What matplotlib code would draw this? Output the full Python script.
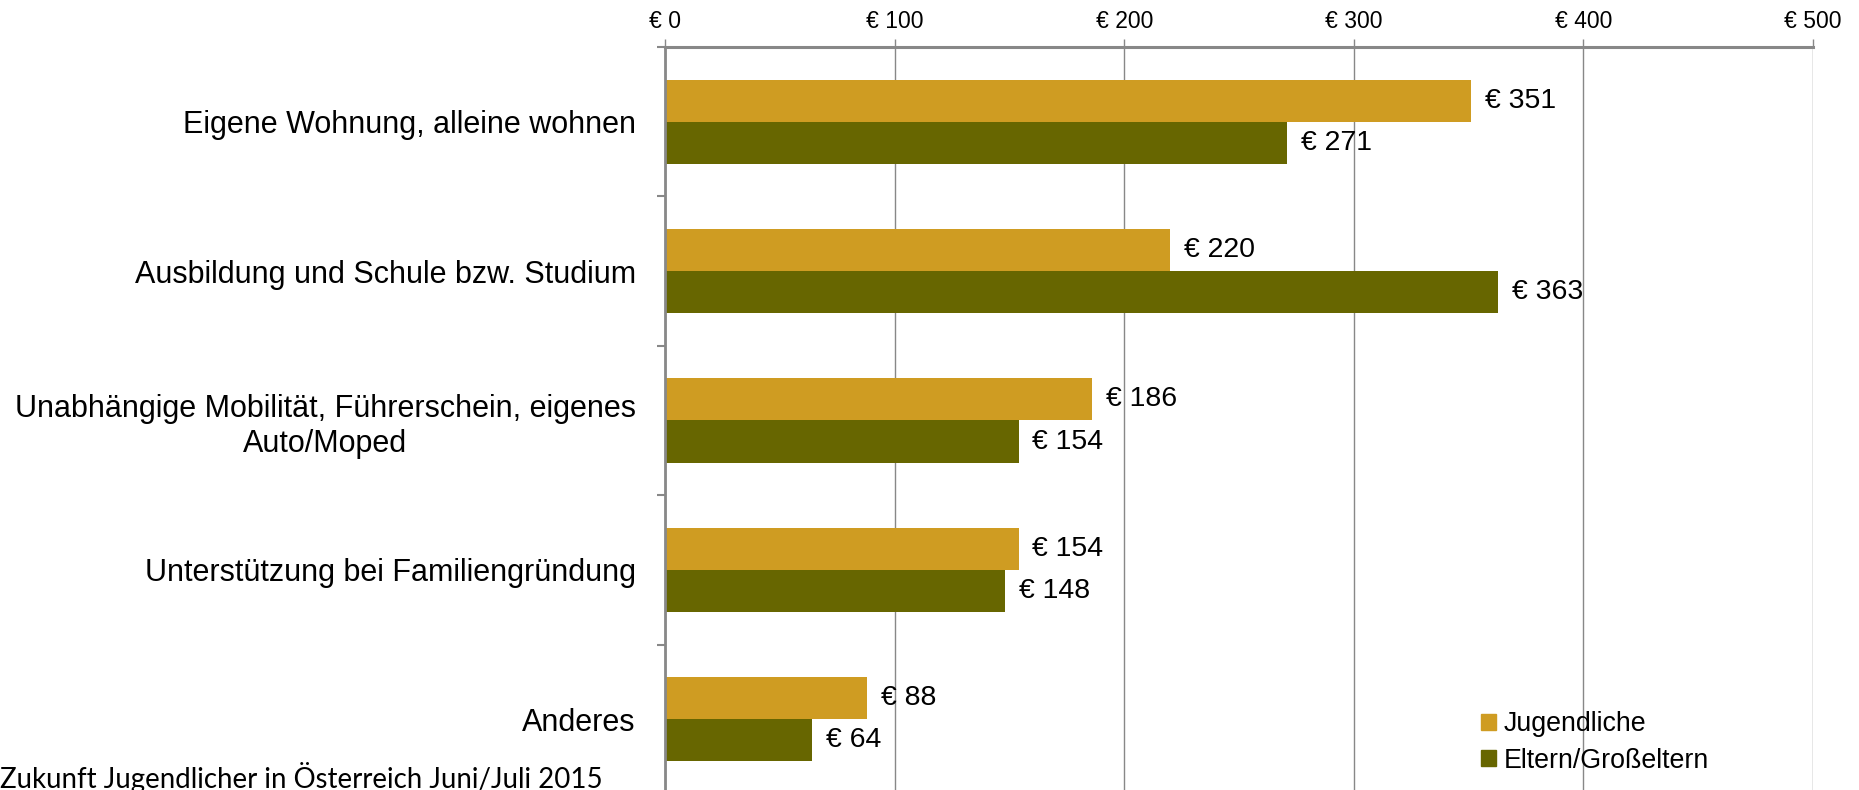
import matplotlib
matplotlib.use('Agg')
import matplotlib.pyplot as plt
from matplotlib.patches import Patch
import numpy as np

categories = ['Eigene Wohnung, alleine wohnen',
              'Ausbildung und Schule bzw. Studium',
              'Unabhängige Mobilität, Führerschein, eigenes\nAuto/Moped',
              'Unterstützung bei Familiengründung',
              'Anderes']
jugendliche = [351, 220, 186, 154, 88]
eltern = [271, 363, 154, 148, 64]
series_names = ['Jugendliche', 'Eltern/Großeltern']
x_ticks = [0, 100, 200, 300, 400, 500]

gold = '#CF9C22'
olive = '#676600'
grey = '#888888'

plt.rcParams['font.family'] = ['Liberation Sans', 'DejaVu Sans']

fig = plt.figure(figsize=(18.59, 7.90), dpi=100)
ax = fig.add_axes([665 / 1859, -0.005, (1813 - 665) / 1859, 0.9455])

y = np.arange(len(categories))
h = 0.282
ax.barh(y - h / 2, jugendliche, height=h, color=gold)
ax.barh(y + h / 2, eltern, height=h, color=olive)

for i in range(len(categories)):
    ax.annotate(f'€ {jugendliche[i]}', (jugendliche[i], y[i] - h / 2),
                xytext=(10, 0), textcoords='offset points',
                va='center', ha='left', fontsize=20.5)
    ax.annotate(f'€ {eltern[i]}', (eltern[i], y[i] + h / 2),
                xytext=(10, 0), textcoords='offset points',
                va='center', ha='left', fontsize=20.5)

ax.set_xlim(0, 500)
ax.set_ylim(len(categories) - 0.5, -0.5)

ax.xaxis.tick_top()
ax.set_xticks(x_ticks)
ax.set_xticklabels([f'€ {v}' for v in x_ticks], fontsize=16.5)
ax.tick_params(axis='x', length=6, width=1, color=grey, pad=4)
ax.grid(axis='x', color=grey, linewidth=1)
ax.set_axisbelow(True)

ax.set_yticks(y)
ax.set_yticklabels(categories, fontsize=22)
ax.tick_params(axis='y', which='major', length=0, pad=21)
ax.set_yticks(np.arange(-0.5, len(categories) - 1, 1), minor=True)
ax.tick_params(axis='y', which='minor', length=6, width=1.5, color=grey)
for lbl in ax.get_yticklabels():
    lbl.set_multialignment('center')

for s in ['right', 'bottom']:
    ax.spines[s].set_visible(False)
ax.spines['top'].set_color(grey)
ax.spines['top'].set_linewidth(2.2)
ax.spines['left'].set_color(grey)
ax.spines['left'].set_linewidth(2)

handles = [Patch(color=gold), Patch(color=olive)]
fig.legend(handles, series_names, loc='upper left',
           bbox_to_anchor=(1457 / 1859, 1 - 687 / 790),
           frameon=False, fontsize=19.3, handlelength=0.55, handleheight=0.55,
           handletextpad=0.3, labelspacing=0.4)

fig.text(0, -0.004, 'Zukunft Jugendlicher in Österreich Juni/Juli 2015',
         fontsize=19.9, family=['Lato', 'DejaVu Sans'], ha='left', va='bottom')

plt.savefig('out.png', dpi=100)
plt.close()
